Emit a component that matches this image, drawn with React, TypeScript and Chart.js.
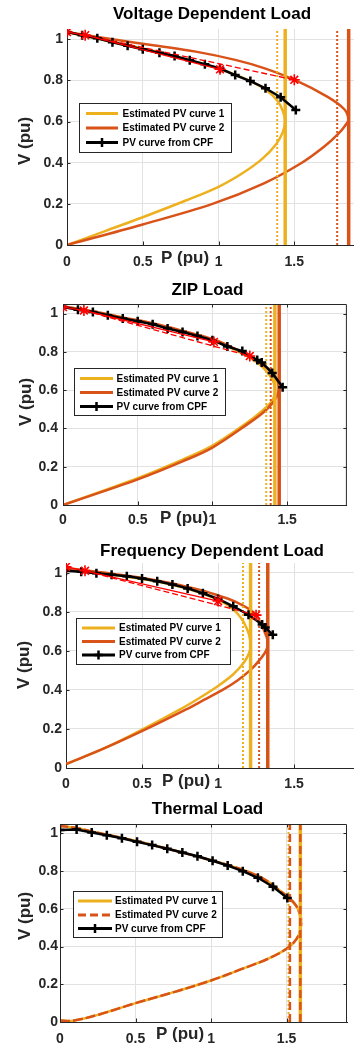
import { useEffect, useRef } from "react";
import { Chart, registerables } from "chart.js";

Chart.register(...registerables);

const FONT = '"Liberation Sans", Arial, sans-serif';
const YELLOW = "#EDB120";
const ORANGE = "#D95319";
const RED = "#FF0000";
const AXIS = "#262626";
const GRID = "#E2E2E2";

// Axis ticks shared by all four panels
const pTicks = [0, 0.5, 1, 1.5];
const pTickLabels = ["0", "0.5", "1", "1.5"];
const vTicks = [0, 0.2, 0.4, 0.6, 0.8, 1];
const vTickLabels = ["0", "0.2", "0.4", "0.6", "0.8", "1"];
const pRange = [0, 1.9];
const vRange = [0, 1.05];

const seriesNames = ["Estimated PV curve 1", "Estimated PV curve 2", "PV curve from CPF"];
const panelTitles = ["Voltage Dependent Load", "ZIP Load", "Frequency Dependent Load", "Thermal Load"];
const pAxisTitle = "P (pu)";
const vAxisTitle = "V (pu)";

// ---------- Voltage dependent load ----------
const vdCpfP = [0, 0.1, 0.2, 0.3, 0.4, 0.5, 0.61, 0.71, 0.81, 0.91, 1.01, 1.11, 1.21, 1.31, 1.41, 1.51];
const vdCpfV = [1.035, 1.02, 1.005, 0.986, 0.969, 0.951, 0.935, 0.919, 0.898, 0.879, 0.858, 0.826, 0.797, 0.762, 0.718, 0.656];
const vdEst1P = [0, 0.26, 0.5, 0.78, 1.0, 1.16, 1.29, 1.38, 1.425, 1.44, 1.425, 1.39, 1.32, 1.2, 1.03, 0.8, 0.53, 0.22, 0];
const vdEst1V = [0, 0.07, 0.135, 0.215, 0.283, 0.35, 0.42, 0.49, 0.55, 0.6, 0.65, 0.7, 0.75, 0.8, 0.85, 0.9, 0.95, 1.0, 1.035];
const vdEst2P = [0, 0.5, 0.96, 1.3, 1.55, 1.7, 1.79, 1.835, 1.857, 1.83, 1.72, 1.51, 1.3, 1.11, 0.85, 0.58, 0.3, 0];
const vdEst2V = [0, 0.1, 0.2, 0.3, 0.4, 0.48, 0.54, 0.58, 0.61, 0.66, 0.72, 0.8, 0.86, 0.9, 0.94, 0.97, 1.0, 1.035];
const vdStarP = [0, 0.12, 1.01, 1.5];
const vdStarV = [1.035, 1.02, 0.854, 0.803];
const vdLimit1 = [1.387, 1.44];
const vdLimit2 = [1.783, 1.859];

// ---------- ZIP load ----------
const zipCpfP = [0, 0.1, 0.2, 0.3, 0.4, 0.5, 0.6, 0.7, 0.8, 0.9, 1.0, 1.1, 1.2, 1.3, 1.33, 1.4, 1.47];
const zipCpfV = [1.034, 1.02, 1.008, 0.991, 0.974, 0.96, 0.944, 0.922, 0.904, 0.883, 0.861, 0.828, 0.804, 0.757, 0.745, 0.69, 0.615];
const zipEst1P = [0, 0.5, 0.8, 1.0, 1.24, 1.33, 1.39, 1.415, 1.42, 1.41, 1.38, 1.33, 1.25, 1.1, 1.0, 0.8, 0.6, 0.4, 0.2, 0];
const zipEst1V = [0, 0.14, 0.237, 0.31, 0.435, 0.49, 0.535, 0.57, 0.6, 0.64, 0.68, 0.725, 0.77, 0.83, 0.863, 0.906, 0.946, 0.977, 1.01, 1.036];
const zipEst2P = [0, 0.5, 0.8, 1.0, 1.24, 1.35, 1.41, 1.435, 1.445, 1.435, 1.4, 1.34, 1.25, 1.1, 1.0, 0.8, 0.6, 0.4, 0.2, 0];
const zipEst2V = [0, 0.134, 0.228, 0.3, 0.425, 0.49, 0.54, 0.575, 0.61, 0.65, 0.69, 0.73, 0.775, 0.835, 0.867, 0.91, 0.949, 0.98, 1.012, 1.038];
const zipStarP = [0, 0.14, 1.01, 1.25];
const zipStarV = [1.034, 1.016, 0.852, 0.778];
const zipLimit1 = [1.36, 1.418];
const zipLimit2 = [1.39, 1.447];

// ---------- Frequency dependent load ----------
const fdCpfP = [0, 0.1, 0.2, 0.3, 0.4, 0.5, 0.6, 0.7, 0.8, 0.9, 1.0, 1.1, 1.2, 1.29, 1.31, 1.36];
const fdCpfV = [1.01, 1.005, 0.997, 0.99, 0.982, 0.971, 0.957, 0.94, 0.92, 0.895, 0.866, 0.828, 0.785, 0.735, 0.72, 0.682];
const fdEst1P = [0, 0.25, 0.51, 0.75, 0.88, 1.0, 1.1, 1.17, 1.205, 1.214, 1.205, 1.18, 1.15, 1.1, 1.0, 0.8, 0.6, 0.4, 0.2, 0];
const fdEst1V = [0.02, 0.1, 0.2, 0.3, 0.36, 0.42, 0.48, 0.54, 0.59, 0.625, 0.68, 0.73, 0.77, 0.812, 0.862, 0.918, 0.955, 0.98, 1.0, 1.02];
const fdEst2P = [0, 0.25, 0.53, 0.79, 0.91, 1.03, 1.13, 1.21, 1.27, 1.315, 1.328, 1.315, 1.29, 1.24, 1.11, 1.0, 0.87, 0.6, 0.3, 0];
const fdEst2V = [0.02, 0.1, 0.2, 0.3, 0.35, 0.4, 0.45, 0.5, 0.55, 0.6, 0.64, 0.68, 0.725, 0.793, 0.853, 0.884, 0.915, 0.96, 0.995, 1.025];
const fdStarP = [0, 0.125, 1.0, 1.25];
const fdStarV = [1.03, 1.01, 0.855, 0.783];
const fdLimit1 = [1.164, 1.214];
const fdLimit2 = [1.27, 1.327];

// ---------- Thermal load ----------
const thCpfP = [0, 0.11, 0.21, 0.31, 0.41, 0.51, 0.61, 0.71, 0.81, 0.91, 1.01, 1.11, 1.21, 1.31, 1.41, 1.505];
const thCpfV = [1.018, 1.021, 1.005, 0.99, 0.974, 0.956, 0.938, 0.919, 0.899, 0.879, 0.855, 0.83, 0.8, 0.765, 0.717, 0.658];
const thEst1P = [0, 0.08, 0.26, 0.5, 0.76, 1.0, 1.2, 1.39, 1.52, 1.58, 1.597, 1.585, 1.56, 1.52, 1.45, 1.35, 1.2, 1.0, 0.8, 0.6, 0.4, 0.2, 0.1, 0];
const thEst1V = [0.008, 0.006, 0.04, 0.1, 0.16, 0.22, 0.28, 0.34, 0.4, 0.46, 0.53, 0.58, 0.62, 0.655, 0.7, 0.758, 0.81, 0.858, 0.901, 0.941, 0.978, 1.012, 1.03, 1.04];
const thEst2P = thEst1P;
const thEst2V = thEst1V;
const thLimit1 = [1.513, 1.591];
const thLimit2 = [1.522, 1.591];

type Panel = {
  title: string;
  cpfP: number[];
  cpfV: number[];
  est1P: number[];
  est1V: number[];
  est2P: number[];
  est2V: number[];
  starP: number[] | null;
  starV: number[] | null;
  limit1: number[];
  limit2: number[];
  est2Dashed: boolean;
};

const panels: Panel[] = [
  { title: panelTitles[0], cpfP: vdCpfP, cpfV: vdCpfV, est1P: vdEst1P, est1V: vdEst1V, est2P: vdEst2P, est2V: vdEst2V, starP: vdStarP, starV: vdStarV, limit1: vdLimit1, limit2: vdLimit2, est2Dashed: false },
  { title: panelTitles[1], cpfP: zipCpfP, cpfV: zipCpfV, est1P: zipEst1P, est1V: zipEst1V, est2P: zipEst2P, est2V: zipEst2V, starP: zipStarP, starV: zipStarV, limit1: zipLimit1, limit2: zipLimit2, est2Dashed: false },
  { title: panelTitles[2], cpfP: fdCpfP, cpfV: fdCpfV, est1P: fdEst1P, est1V: fdEst1V, est2P: fdEst2P, est2V: fdEst2V, starP: fdStarP, starV: fdStarV, limit1: fdLimit1, limit2: fdLimit2, est2Dashed: false },
  { title: panelTitles[3], cpfP: thCpfP, cpfV: thCpfV, est1P: thEst1P, est1V: thEst1V, est2P: thEst2P, est2V: thEst2V, starP: null, starV: null, limit1: thLimit1, limit2: thLimit2, est2Dashed: true },
];

// Canvas placement and decorations for each panel (canvas pixel coordinates)
const layouts = [
  { top: 0, w: 362, h: 274, area: { l: 67, t: 29, r: 358, b: 245 }, box: false, xPad: 9, yPad: 4,
    title: [212, 14], vLabel: [25, 141], pLabel: [185, 258],
    legend: { x: 79, y: 103, w: 152, h: 49, rows: [113.5, 128, 142.5], line: [86, 118], text: 122.5 } },
  { top: 274, w: 354, h: 262, area: { l: 63, t: 30, r: 353, b: 231 }, box: true, xPad: 7, yPad: 5,
    title: [207.5, 16], vLabel: [26.5, 128], pLabel: [184, 244],
    legend: { x: 74, y: 94, w: 151, h: 47, rows: [104.5, 118.5, 132.5], line: [80, 113], text: 116.5 } },
  { top: 536, w: 362, h: 262, area: { l: 66, t: 27, r: 358, b: 232 }, box: false, xPad: 8, yPad: 4,
    title: [212, 15], vLabel: [24, 129], pLabel: [186, 245],
    legend: { x: 76, y: 82, w: 154, h: 46, rows: [92, 105.5, 119], line: [82, 115], text: 119 } },
  { top: 798, w: 354, h: 248, area: { l: 60, t: 26, r: 353, b: 224 }, box: true, xPad: 9, yPad: 2,
    title: [207.5, 11.5], vLabel: [25.5, 118], pLabel: [180, 236],
    legend: { x: 73, y: 93, w: 149, h: 46, rows: [103, 117, 130.5], line: [78, 112], text: 115 } },
];

const xy = (P: number[], V: number[]) => P.map((p, i) => ({ x: p, y: V[i] }));

function verticalLine(p: number, color: string, width: number, dash: number[], order: number) {
  return {
    data: [{ x: p, y: vRange[0] }, { x: p, y: vRange[1] }],
    borderColor: color,
    borderWidth: width,
    borderDash: dash,
    pointRadius: 0,
    tension: 0,
    order,
  };
}

function buildDatasets(p: Panel) {
  const ds: any[] = [];
  ds.push({ data: xy(p.est1P, p.est1V), borderColor: YELLOW, borderWidth: 2.5, tension: 0.35, pointRadius: 0, order: 20 });
  ds.push({ data: xy(p.est2P, p.est2V), borderColor: ORANGE, borderWidth: 2.5, borderDash: p.est2Dashed ? [10, 3] : [], tension: 0.35, pointRadius: 0, order: 19 });

  // voltage-stability limits: dotted = lower estimate, solid = nose point
  ds.push(verticalLine(p.limit1[0], YELLOW, 2, [2, 2], 15));
  ds.push(verticalLine(p.limit1[1], YELLOW, 3.5, [], 14));
  if (p.est2Dashed) {
    ds.push(verticalLine(p.limit2[0], ORANGE, 2.5, [8, 4], 13));
    ds.push(verticalLine(p.limit2[1], ORANGE, 2.5, [8, 4], 12));
  } else {
    ds.push(verticalLine(p.limit2[0], ORANGE, 2, [2, 2], 13));
    ds.push(verticalLine(p.limit2[1], ORANGE, 3.5, [], 12));
  }

  ds.push({
    data: xy(p.cpfP, p.cpfV),
    borderColor: "#000",
    borderWidth: 2.5,
    tension: 0,
    pointStyle: "cross",
    pointRadius: 4.5,
    pointBorderWidth: 2.5,
    pointBorderColor: "#000",
    order: 8,
  });

  if (p.starP && p.starV) {
    const s = xy(p.starP, p.starV);
    ds.push({ data: [s[0], s[1], s[2]], borderColor: RED, borderWidth: 1.3, pointRadius: 0, tension: 0, order: 5 });
    ds.push({ data: [s[1], s[3]], borderColor: RED, borderWidth: 1.3, borderDash: [6, 3], pointRadius: 0, tension: 0, order: 4 });
    ds.push({
      data: s,
      showLine: false,
      pointStyle: "star",
      pointRadius: 5.5,
      pointBorderWidth: 1.6,
      pointBorderColor: RED,
      pointBackgroundColor: RED,
      order: 2,
    });
  }
  return ds;
}

function makeDecorations(p: Panel, g: any) {
  return {
    id: "decorations",
    afterDatasetsDraw(chart: any) {
      const { ctx, chartArea: a, scales } = chart;
      ctx.save();
      ctx.strokeStyle = AXIS;
      ctx.lineWidth = 1;
      ctx.setLineDash([]);
      if (g.box) {
        ctx.beginPath();
        ctx.moveTo(a.left, a.top + 0.5);
        ctx.lineTo(a.right - 0.5, a.top + 0.5);
        ctx.lineTo(a.right - 0.5, a.bottom);
        ctx.stroke();
      }
      const tl = 3.5;
      ctx.beginPath();
      for (const v of pTicks) {
        const x = Math.round(scales.x.getPixelForValue(v)) + 0.5;
        ctx.moveTo(x, a.bottom);
        ctx.lineTo(x, a.bottom - tl);
        if (g.box) {
          ctx.moveTo(x, a.top);
          ctx.lineTo(x, a.top + tl);
        }
      }
      for (const v of vTicks) {
        const y = Math.round(scales.y.getPixelForValue(v)) + 0.5;
        ctx.moveTo(a.left, y);
        ctx.lineTo(a.left + tl, y);
        if (g.box) {
          ctx.moveTo(a.right, y);
          ctx.lineTo(a.right - tl, y);
        }
      }
      ctx.stroke();
      ctx.restore();
    },
    afterDraw(chart: any) {
      const { ctx } = chart;
      ctx.save();
      ctx.setLineDash([]);
      // title
      ctx.fillStyle = "#000";
      ctx.font = `bold 17px ${FONT}`;
      ctx.textAlign = "center";
      ctx.textBaseline = "middle";
      ctx.fillText(p.title, g.title[0], g.title[1]);
      // axis titles
      ctx.fillStyle = AXIS;
      ctx.font = `bold 17px ${FONT}`;
      ctx.fillText(pAxisTitle, g.pLabel[0], g.pLabel[1]);
      ctx.save();
      ctx.translate(g.vLabel[0], g.vLabel[1]);
      ctx.rotate(-Math.PI / 2);
      ctx.fillText(vAxisTitle, 0, 0);
      ctx.restore();

      // legend
      const lg = g.legend;
      ctx.fillStyle = "#fff";
      ctx.fillRect(lg.x, lg.y, lg.w, lg.h);
      ctx.strokeStyle = AXIS;
      ctx.lineWidth = 1;
      ctx.strokeRect(lg.x + 0.5, lg.y + 0.5, lg.w, lg.h);
      const entries = [
        { color: YELLOW, dash: [] as number[], marker: false },
        { color: ORANGE, dash: p.est2Dashed ? [8, 4] : [], marker: false },
        { color: "#000", dash: [] as number[], marker: true },
      ];
      entries.forEach((e, i) => {
        const y = lg.rows[i];
        ctx.strokeStyle = e.color;
        ctx.lineWidth = 3;
        ctx.setLineDash(e.dash);
        ctx.beginPath();
        ctx.moveTo(lg.line[0], y);
        ctx.lineTo(lg.line[1], y);
        ctx.stroke();
        ctx.setLineDash([]);
        if (e.marker) {
          const cx = (lg.line[0] + lg.line[1]) / 2;
          ctx.lineWidth = 2.5;
          ctx.beginPath();
          ctx.moveTo(cx, y - 4.5);
          ctx.lineTo(cx, y + 4.5);
          ctx.moveTo(cx - 4.5, y);
          ctx.lineTo(cx + 4.5, y);
          ctx.stroke();
        }
        ctx.fillStyle = "#000";
        ctx.font = `bold 10px ${FONT}`;
        ctx.textAlign = "left";
        ctx.textBaseline = "middle";
        ctx.fillText(seriesNames[i], lg.text, y + 0.5);
      });
      ctx.restore();
    },
  };
}

function PanelChart({ panel, g }: { panel: Panel; g: any }) {
  const ref = useRef<HTMLCanvasElement | null>(null);

  useEffect(() => {
    const canvas = ref.current;
    if (!canvas) return;
    const tickFont = { family: FONT, size: 14, weight: "bold" as const };
    const chart = new Chart(canvas, {
      type: "line",
      data: { datasets: buildDatasets(panel) },
      options: {
        animation: false,
        responsive: false,
        devicePixelRatio: 1,
        events: [],
        layout: { padding: { top: g.area.t, left: 0, right: g.w - g.area.r, bottom: 0 } },
        plugins: { legend: { display: false }, title: { display: false }, tooltip: { enabled: false } },
        scales: {
          x: {
            type: "linear",
            min: pRange[0],
            max: pRange[1],
            afterBuildTicks: (s: any) => {
              s.ticks = pTicks.map((v) => ({ value: v }));
            },
            afterFit: (s: any) => {
              s.height = g.h - g.area.b;
            },
            ticks: {
              callback: (_v: any, i: number) => pTickLabels[i],
              font: tickFont,
              color: AXIS,
              padding: g.xPad,
              maxRotation: 0,
              autoSkip: false,
            },
            grid: { color: GRID, lineWidth: 1, drawTicks: false },
            border: { display: true, color: AXIS, width: 1 },
          },
          y: {
            type: "linear",
            min: vRange[0],
            max: vRange[1],
            afterBuildTicks: (s: any) => {
              s.ticks = vTicks.map((v) => ({ value: v }));
            },
            afterFit: (s: any) => {
              s.width = g.area.l;
            },
            ticks: {
              callback: (_v: any, i: number) => vTickLabels[i],
              font: tickFont,
              color: AXIS,
              padding: g.yPad,
              autoSkip: false,
            },
            grid: { color: GRID, lineWidth: 1, drawTicks: false },
            border: { display: true, color: AXIS, width: 1 },
          },
        },
      },
      plugins: [makeDecorations(panel, g)],
    } as any);
    return () => chart.destroy();
  }, [panel, g]);

  return (
    <canvas
      ref={ref}
      width={g.w}
      height={g.h}
      style={{ position: "absolute", left: 0, top: g.top, width: g.w, height: g.h, display: "block" }}
    />
  );
}

export default function App() {
  return (
    <div
      style={{
        position: "absolute",
        left: 0,
        top: 0,
        width: 354,
        height: 1046,
        overflow: "hidden",
        background: "#ffffff",
      }}
    >
      {panels.map((p, i) => (
        <PanelChart key={i} panel={p} g={layouts[i]} />
      ))}
    </div>
  );
}
